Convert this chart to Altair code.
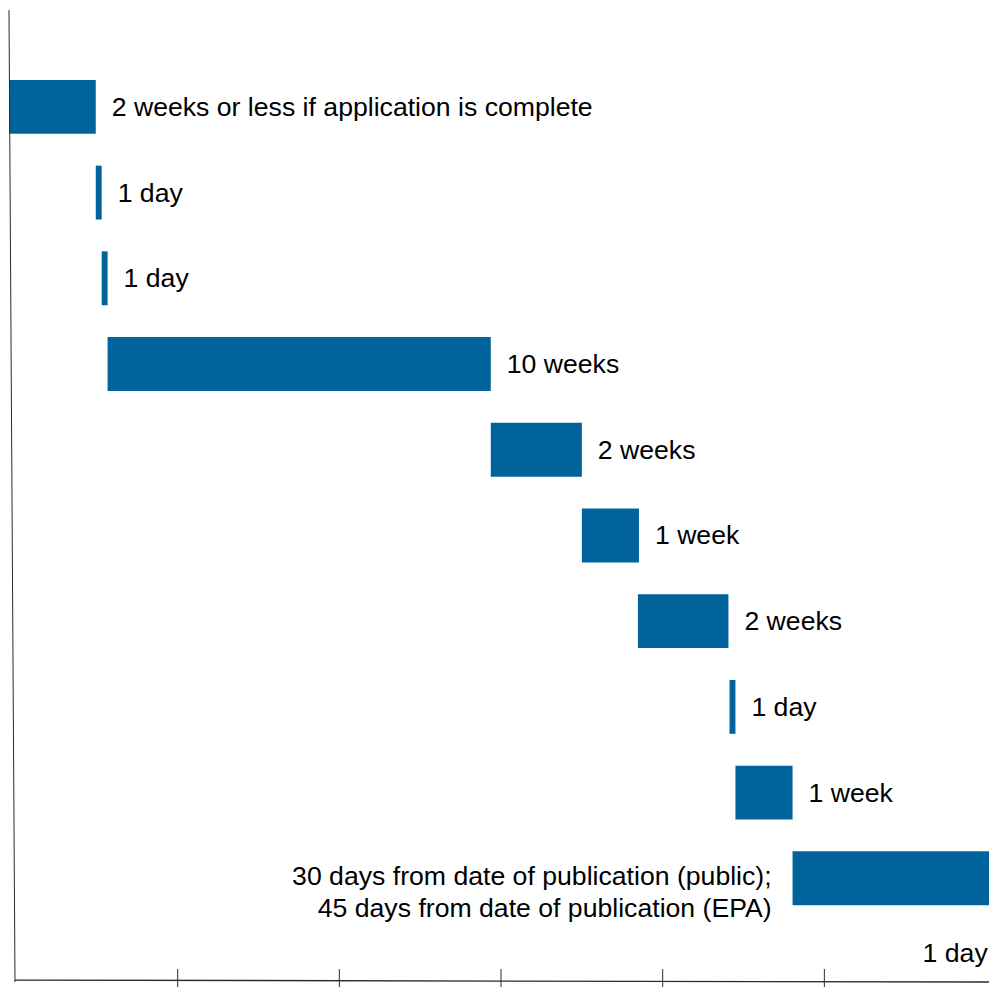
import altair as alt
import pandas as pd

# ---- data (x in days, rows top to bottom) ----
steps = [1, 2, 3, 4, 5, 6, 7, 8, 9, 10, 11]
start_day = [0.0, 16.1, 17.2, 18.3, 89.4, 106.3, 116.7, 133.7, 134.8, 145.4, 183.1]
end_day = [16.1, 17.2, 18.3, 89.4, 106.3, 116.9, 133.5, 134.8, 145.4, 183.1, 184.2]
labels = [
    "2 weeks or less if application is complete",
    "1 day",
    "1 day",
    "10 weeks",
    "2 weeks",
    "1 week",
    "2 weeks",
    "1 day",
    "1 week",
    "30 days from date of publication (public);\n45 days from date of publication (EPA)",
    "1 day",
]
tick_days = [31.3, 61.3, 91.3, 121.3, 151.3]

BLUE = "#00639C"
FONT = "Liberation Sans"
FS = 26.7
W, H = 982, 974
PX_PER_DAY = 5.4

df = pd.DataFrame({"step": steps, "start": start_day, "end": end_day, "label": labels})
ticks = pd.DataFrame({"tick": tick_days})

xscale = alt.Scale(domain=[0, W / PX_PER_DAY], nice=False, zero=False, padding=0)
yscale = alt.Scale(domain=[-0.13, 11.21], reverse=True, nice=False, zero=False, padding=0)

base = alt.Chart(df)

bars = base.transform_filter("datum.step < 11").mark_bar(size=54, color=BLUE, clip=True).encode(
    x=alt.X("start:Q", scale=xscale, axis=None),
    x2="end:Q",
    y=alt.Y("step:Q", scale=yscale, axis=None),
)

text_right = base.transform_filter("datum.step < 10").mark_text(
    align="left", baseline="middle", dx=16, dy=1, fontSize=FS, font=FONT, color="#000000"
).encode(
    x=alt.X("end:Q", scale=xscale, axis=None),
    y=alt.Y("step:Q", scale=yscale, axis=None),
    text="label:N",
)
text_pub = base.transform_filter("datum.step == 10").mark_text(
    align="right", baseline="middle", dx=-21, dy=-1, fontSize=FS, font=FONT, color="#000000",
    lineBreak="\n", lineHeight=32,
).encode(
    x=alt.X("start:Q", scale=xscale, axis=None),
    y=alt.Y("step:Q", scale=yscale, axis=None),
    text="label:N",
)
text_last = base.transform_filter("datum.step == 11").mark_text(
    align="right", baseline="middle", dx=-8, dy=-10, fontSize=FS, font=FONT, color="#000000"
).encode(
    x=alt.X("start:Q", scale=xscale, axis=None),
    y=alt.Y("step:Q", scale=yscale, axis=None),
    text="label:N",
)

one = pd.DataFrame({"a": [0]})
left_axis = alt.Chart(one).mark_rule(color="#2a2a2a", strokeWidth=1).encode(
    x=alt.value(0), x2=alt.value(6), y=alt.value(0), y2=alt.value(H)
)
bottom_axis = alt.Chart(one).mark_rule(color="#2a2a2a", strokeWidth=1.3).encode(
    x=alt.value(6), x2=alt.value(W), y=alt.value(H - 2), y2=alt.value(H)
)
tick_marks = alt.Chart(ticks).mark_rule(color="#2a2a2a", strokeWidth=1).encode(
    x=alt.X("tick:Q", scale=xscale, axis=None),
    y=alt.value(H - 13),
    y2=alt.value(H + 10),
)

chart = alt.layer(
    bars, text_right, text_pub, text_last, left_axis, bottom_axis, tick_marks
).properties(
    width=W, height=H, padding=0, background="white"
).configure_view(stroke=None)

chart.save("out.html", embed_options={"renderer": "svg", "actions": False})
